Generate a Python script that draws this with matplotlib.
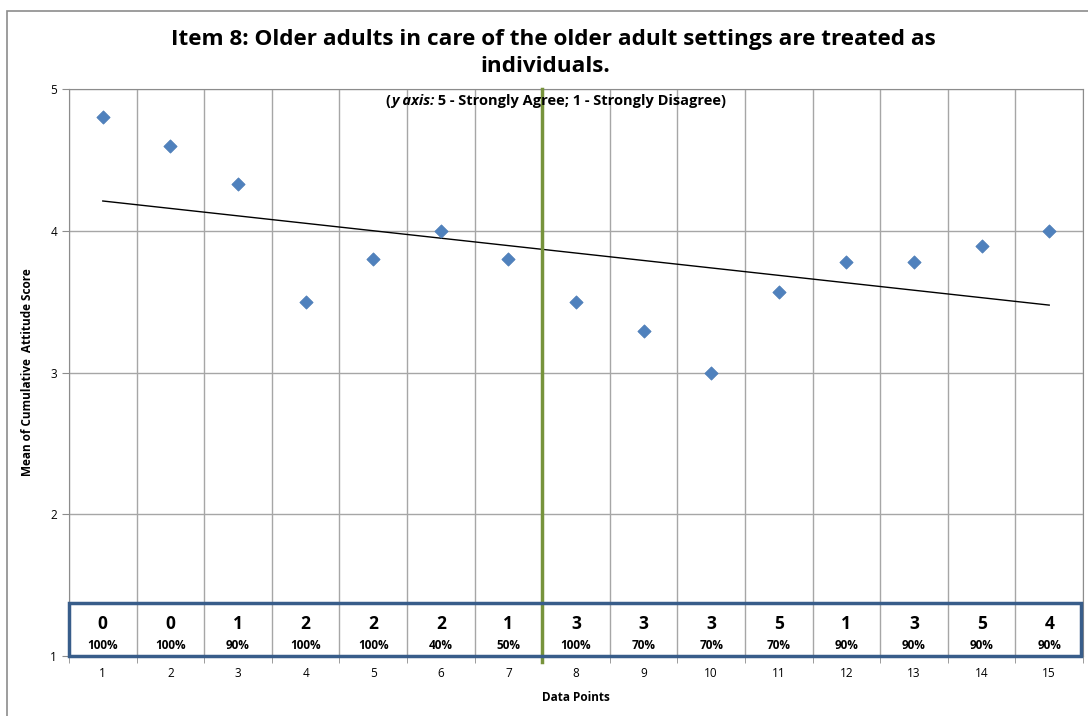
import matplotlib.pyplot as plt
import numpy as np
from matplotlib.patches import Rectangle

# data
points = list(range(1, 16))
mean_scores = [4.8, 4.6, 4.33, 3.5, 3.8, 4.0, 3.8, 3.5, 3.29, 3.0, 3.57, 3.78, 3.78, 3.89, 4.0]
box_counts = ["0", "0", "1", "2", "2", "2", "1", "3", "3", "3", "5", "1", "3", "5", "4"]
box_pcts = ["100%", "100%", "90%", "100%", "100%", "40%", "50%", "100%", "70%", "70%", "70%",
            "90%", "90%", "90%", "90%"]
phase_change = 7.5

plt.rcParams["font.family"] = ["Open Sans", "DejaVu Sans"]

fig = plt.figure(figsize=(10.88, 7.16), dpi=100)
W, H = 1088, 716
ax = fig.add_axes([69 / W, 1 - 656 / H, (1083 - 69) / W, (656 - 89) / H])

# outer chart frame
fig.patches.append(Rectangle((7 / W, -0.02), 1.05, 1 - 11 / H + 0.02, transform=fig.transFigure,
                             fill=False, edgecolor="#8c8c8c", linewidth=1.2))

ax.set_xlim(0.5, 15.5)
ax.set_ylim(1, 5)
ax.set_yticks([1, 2, 3, 4, 5])
ax.set_xticks(points)
ax.set_xticks(np.arange(0.5, 16, 1), minor=True)
ax.tick_params(axis="x", which="major", length=0, labelsize=8.5, pad=8)
ax.tick_params(axis="x", which="minor", length=5, color="#8c8c8c", direction="out")
ax.tick_params(axis="y", which="major", length=5, color="#8c8c8c", labelsize=8.5)
ax.grid(True, axis="y", which="major", color="#a6a6a6", linewidth=1)
ax.grid(True, axis="x", which="minor", color="#a6a6a6", linewidth=1)
for s in ax.spines.values():
    s.set_color("#8c8c8c")
ax.set_axisbelow(True)

# points
ax.scatter(points, mean_scores, marker="D", s=46, color="#4f81bd", edgecolor="#4a7ab5",
           linewidth=0.5, zorder=4, clip_on=False)

# linear trend line
slope, icpt = np.polyfit(points, mean_scores, 1)
xs = np.array([points[0], points[-1]])
ax.plot(xs, slope * xs + icpt, color="black", linewidth=1, zorder=3)

# phase change line
ax.plot([phase_change, phase_change], [0.96, 5], color="#77933c", linewidth=2.5,
        zorder=5, clip_on=False)

# box of counts
ax.add_patch(Rectangle((0.5, 1.0), 14.97, 0.375, fill=False, edgecolor="#385d8a",
                       linewidth=2.5, zorder=6, clip_on=False))
for x, c, p in zip(points, box_counts, box_pcts):
    ax.text(x, 1.228, c, ha="center", va="center", fontsize=12.5, fontweight="bold", zorder=7)
    ax.text(x, 1.075, p, ha="center", va="center", fontsize=8.5, fontweight="bold", zorder=7)

fig.text(553 / W, 1 - 39 / H, "Item 8: Older adults in care of the older adult settings are treated as",
         ha="center", va="center", fontsize=16.2, fontweight="bold")
fig.text(545 / W, 1 - 66 / H, "individuals.", ha="center", va="center", fontsize=16.2,
         fontweight="bold")

# subtitle: italic part + plain part, centred together
sub_y = 1 - 101 / H
t1 = fig.text(0, sub_y, "(", ha="left", va="center", fontsize=10.5, fontweight="bold")
t2 = fig.text(0, sub_y, "y axis:", ha="left", va="center", fontsize=10.5, fontweight="bold",
              style="italic")
t3 = fig.text(0, sub_y, " 5 - Strongly Agree; 1 - Strongly Disagree)", ha="left", va="center",
              fontsize=10.5, fontweight="bold")
fig.canvas.draw()
r = fig.canvas.get_renderer()
ws = [t.get_window_extent(r).width / W for t in (t1, t2, t3)]
x0 = 556 / W - sum(ws) / 2
for t, w in zip((t1, t2, t3), ws):
    t.set_x(x0)
    x0 += w

ax.set_xlabel("Data Points", fontsize=8.5, fontweight="bold", labelpad=8)
ax.set_ylabel("Mean of Cumulative  Attitude Score", fontsize=8.5, fontweight="bold", labelpad=12)

fig.savefig("out.png", dpi=100)
